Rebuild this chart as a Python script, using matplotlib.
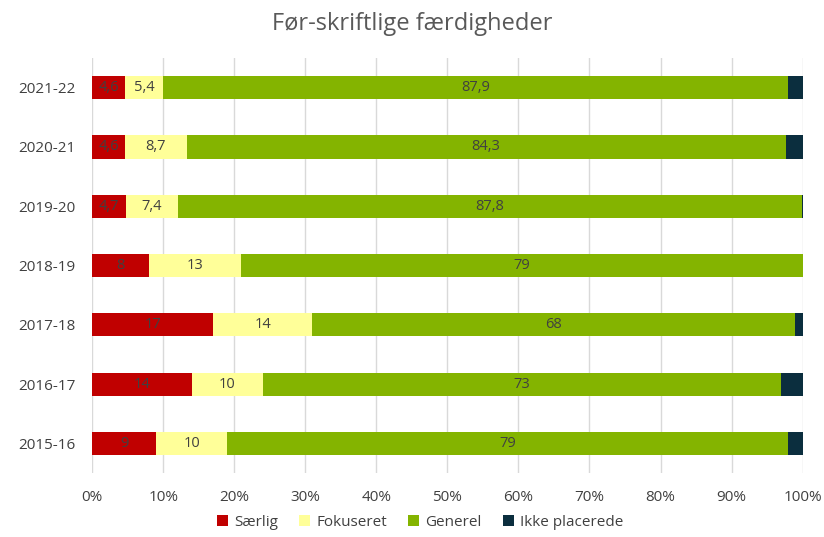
import matplotlib
matplotlib.use("Agg")
import matplotlib.pyplot as plt
from matplotlib.ticker import PercentFormatter

# Data (percent of children per year)
years = ["2021-22", "2020-21", "2019-20", "2018-19", "2017-18", "2016-17", "2015-16"]
saerlig = [4.6, 4.6, 4.7, 8, 17, 14, 9]
fokuseret = [5.4, 8.7, 7.4, 13, 14, 10, 10]
generel = [87.9, 84.3, 87.8, 79, 68, 73, 79]
ikke_placerede = [2.1, 2.4, 0.1, 0, 1, 3, 3]

series_names = ["Særlig", "Fokuseret", "Generel", "Ikke placerede"]
colors = ["#C00000", "#FFFF99", "#84B400", "#0B2E3E"]

plt.rcParams['font.family'] = ['Open Sans', 'DejaVu Sans']

fig = plt.figure(figsize=(8.24, 5.37), dpi=100)
ax = fig.add_axes([0.112, 0.119, 0.862, 0.773])

# top category first
ypos = list(range(len(years)))[::-1]

left = [0.0] * len(years)
all_series = [saerlig, fokuseret, generel, ikke_placerede]
for i, values in enumerate(all_series):
    bars = ax.barh(ypos, values, left=left, height=0.39, color=colors[i],
                   label=series_names[i], zorder=3)
    if i < 3:
        labels = [f"{v:g}".replace(".", ",") for v in values]
        ax.bar_label(bars, labels=labels, label_type='center', fontsize=10.5,
                     color="#404040")
    left = [l + v for l, v in zip(left, values)]

ax.set_xlim(0, 100)
ax.set_ylim(-0.5, len(years) - 0.5)
ax.set_yticks(ypos)
ax.set_yticklabels(years)
ax.set_xticks(range(0, 101, 10))
ax.xaxis.set_major_formatter(PercentFormatter(decimals=0))
ax.grid(axis='x', color="#D9D9D9", linewidth=1, zorder=0)
for s in ax.spines.values():
    s.set_visible(False)
ax.tick_params(length=0, labelsize=11, colors="#404040")
ax.tick_params(axis='y', pad=12)
ax.tick_params(axis='x', pad=12)

fig.suptitle("Før-skriftlige færdigheder", y=0.978, fontsize=17, color="#595959")

fig.legend(loc='lower center', bbox_to_anchor=(0.51, -0.012), ncol=4, frameon=False,
           fontsize=11, handlelength=0.7, handleheight=0.7, columnspacing=1.4,
           handletextpad=0.4, labelcolor="#404040")

fig.savefig("out.png", dpi=100)
